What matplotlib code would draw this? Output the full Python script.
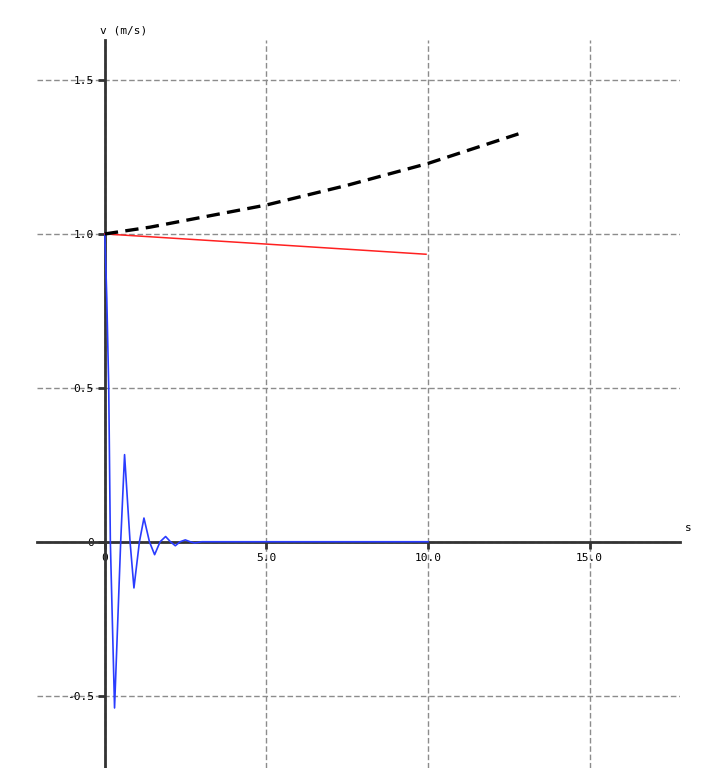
import matplotlib
matplotlib.use('Agg')
import matplotlib.pyplot as plt
from matplotlib.ticker import FixedLocator, FuncFormatter

# blue: damped response
t_blue = [0, 0.06, 0.12, 0.17, 0.30, 0.49, 0.61, 0.78, 0.90, 1.07, 1.21, 1.38,
          1.54, 1.71, 1.88, 2.03, 2.18, 2.33, 2.49, 2.64, 2.78, 3.0, 10.0]
v_blue = [1.0, 0.79, 0.5, 0.0, -0.54, 0.0, 0.283, 0.0, -0.15, 0.0, 0.077, 0.0,
          -0.042, 0.0, 0.017, 0.0, -0.013, 0.0, 0.006, 0.0, -0.004, 0.0, 0.0]

# red
t_red = [0, 5.0, 9.94]
v_red = [1.0, 0.967, 0.934]

# black dashed
t_black = [0, 1.4, 5.0, 7.5, 10.0, 12.8]
v_black = [1.0, 1.022, 1.094, 1.158, 1.229, 1.325]

xticks = [0, 5, 10, 15]
yticks = [-0.5, 0, 0.5, 1.0, 1.5]

MONO = 'DejaVu Sans Mono'
FS = 8

fig = plt.figure(figsize=(7.26, 7.68), dpi=100)
ax = fig.add_axes([37/726, 0, (680-37)/726, (768-40)/768])

ax.plot(t_blue, v_blue, color='#2a3cff', lw=1.2, zorder=3)
ax.plot(t_red, v_red, color='#ff2020', lw=1.1, zorder=3)
ax.plot(t_black, v_black, color='black', lw=2.4, dashes=(4, 2.2), zorder=3)

ax.set_xlim(-2.1, 17.8)
ax.set_ylim(-0.735, 1.63)

for s in ['top', 'right']:
    ax.spines[s].set_visible(False)
ax.spines['left'].set_position(('data', 0))
ax.spines['bottom'].set_position(('data', 0))
for s in ['left', 'bottom']:
    ax.spines[s].set_linewidth(2)
    ax.spines[s].set_color('#333333')
    ax.spines[s].set_zorder(2)

ax.xaxis.set_major_locator(FixedLocator(xticks))
ax.yaxis.set_major_locator(FixedLocator(yticks))
ax.xaxis.set_major_formatter(FuncFormatter(lambda v, p: '0' if v == 0 else '%.1f' % v))
ax.yaxis.set_major_formatter(FuncFormatter(lambda v, p: '0' if v == 0 else '%.1f' % v))
ax.tick_params(direction='out', length=5, width=2, color='#333333',
               labelsize=FS, pad=3)
for lab in ax.get_xticklabels() + ax.get_yticklabels():
    lab.set_fontfamily(MONO)

ax.grid(True, color='#8c8c8c', lw=1, linestyle=(0, (4, 2)), zorder=1)
ax.set_axisbelow(True)

ax.text(-0.15, 1.66, 'v (m/s)', fontsize=FS, fontfamily=MONO,
        ha='left', va='center', clip_on=False)
ax.text(18.05, 0.045, 's', fontsize=FS, fontfamily=MONO,
        ha='center', va='center', clip_on=False)

plt.savefig('out.png', dpi=100)
